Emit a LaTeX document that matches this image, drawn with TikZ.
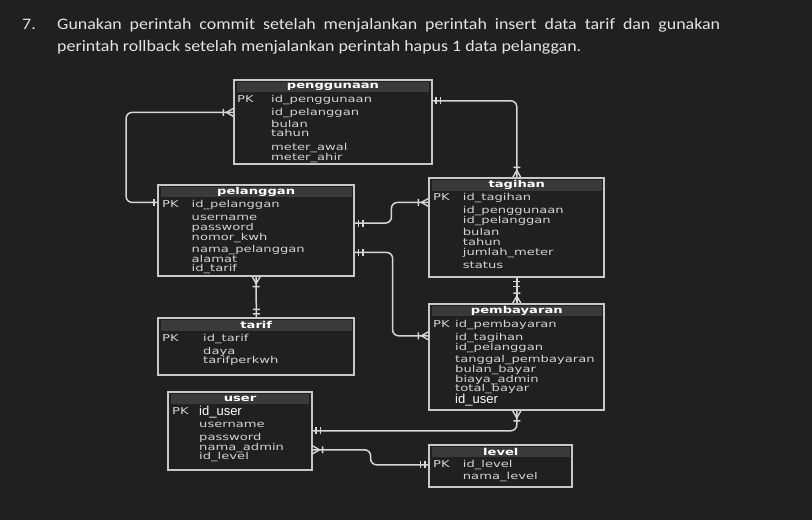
\documentclass[tikz,border=0pt]{standalone}
\usepackage{fontspec}
\usepackage{tikz}
\usetikzlibrary{arrows.meta}
\setmainfont{Carlito}
\newfontfamily\titlefont[FakeStretch=1.12]{Carlito}
\newfontfamily\erfont[FakeStretch=1.38]{DejaVu Sans}
\newfontfamily\idfont{Liberation Sans}

\definecolor{bg}{HTML}{202020}
\definecolor{hdrfill}{HTML}{3A3A3A}
\definecolor{tblline}{HTML}{C8C8C8}
\definecolor{fldtext}{HTML}{D4D4D4}
\definecolor{titletext}{HTML}{E4E4E4}
\definecolor{connline}{HTML}{D6D6D6}

% crow's foot ends
\pgfdeclarearrow{
  name = erbar,
  setup code = {
    \pgfarrowssettipend{0pt}
    \pgfarrowssetlineend{0pt}
    \pgfarrowssetbackend{-5pt}
    \pgfarrowssetvisualbackend{-5pt}
    \pgfarrowshullpoint{0pt}{0pt}
    \pgfarrowshullpoint{-5pt}{0pt}
  },
  drawing code = {
    \pgfsetlinewidth{1.4pt}
    \pgfpathmoveto{\pgfqpoint{-3.5pt}{3.5pt}}
    \pgfpathlineto{\pgfqpoint{-3.5pt}{-3.5pt}}
    \pgfusepathqstroke
  }
}
\pgfdeclarearrow{
  name = erone,
  setup code = {
    \pgfarrowssettipend{0pt}
    \pgfarrowssetlineend{0pt}
    \pgfarrowssetbackend{-9pt}
    \pgfarrowssetvisualbackend{-9pt}
    \pgfarrowshullpoint{0pt}{0pt}
    \pgfarrowshullpoint{-9pt}{0pt}
  },
  drawing code = {
    \pgfsetlinewidth{1.4pt}
    \pgfpathmoveto{\pgfqpoint{-3.5pt}{3.5pt}}
    \pgfpathlineto{\pgfqpoint{-3.5pt}{-3.5pt}}
    \pgfpathmoveto{\pgfqpoint{-8pt}{3.5pt}}
    \pgfpathlineto{\pgfqpoint{-8pt}{-3.5pt}}
    \pgfusepathqstroke
  }
}
\pgfdeclarearrow{
  name = ermany,
  setup code = {
    \pgfarrowssettipend{0pt}
    \pgfarrowssetlineend{0pt}
    \pgfarrowssetbackend{-11pt}
    \pgfarrowssetvisualbackend{-11pt}
    \pgfarrowshullpoint{0pt}{0pt}
    \pgfarrowshullpoint{-11pt}{0pt}
  },
  drawing code = {
    \pgfsetlinewidth{1.4pt}
    \pgfpathmoveto{\pgfqpoint{-10pt}{3.5pt}}
    \pgfpathlineto{\pgfqpoint{-10pt}{-3.5pt}}
    \pgfpathmoveto{\pgfqpoint{0pt}{4pt}}
    \pgfpathlineto{\pgfqpoint{-7pt}{0pt}}
    \pgfpathlineto{\pgfqpoint{0pt}{-4pt}}
    \pgfusepathqstroke
  }
}

\tikzset{
  tbl/.style={draw=tblline, line width=1.8pt, fill=bg, inner sep=0pt},
  hdr/.style={fill=hdrfill, inner sep=0pt, minimum height=10.5pt, anchor=north,
    text=white, font=\erfont\bfseries\fontsize{9.5}{9.5}\selectfont},
  fld/.style={anchor=base west, inner sep=0pt, text=fldtext,
    font=\erfont\fontsize{9.5}{9.5}\selectfont},
  idfld/.style={anchor=base west, inner sep=0pt, text=white,
    font=\idfont\fontsize{13}{13}\selectfont},
  conn/.style={draw=connline, line width=1.5pt, rounded corners=6pt},
}

\begin{document}
\begin{tikzpicture}[x=1pt, y=-1pt]
\fill[bg] (0,0) rectangle (812,520);
\useasboundingbox (0,0) rectangle (812,520);

% task text
\node[anchor=base west, inner sep=0pt, text=titletext,
  font=\titlefont\fontsize{16}{22}\selectfont] (num) at (22,29) {7.};
\node[anchor=base west, inner sep=0pt, text width=663pt, align=justify, text=titletext,
  font=\titlefont\fontsize{16}{22}\selectfont] (task) at (57,29)
  {Gunakan perintah commit setelah menjalankan perintah insert data tarif dan gunakan\linebreak
   perintah rollback setelah menjalankan perintah hapus 1 data pelanggan.};

% penggunaan
\node[tbl, minimum width=197.4pt, minimum height=84.3pt] (peng) at (333,122.15) {};
\node[hdr, minimum width=192.4pt] (peng-h) at ([yshift=-2.5pt]peng.north) {penggunaan};
\node[fld] (peng-pk) at (237,102.3) {PK};
\node[fld] (peng-1) at (271,102.3) {id\_penggunaan};
\node[fld] (peng-2) at (271,115.6) {id\_pelanggan};
\node[fld] (peng-3) at (271,127.3) {bulan};
\node[fld] (peng-4) at (271,136.6) {tahun};
\node[fld] (peng-5) at (271,150) {meter\_awal};
\node[fld] (peng-6) at (271,160.6) {meter\_ahir};

% pelanggan
\node[tbl, minimum width=195.7pt, minimum height=90.7pt] (pel) at (256.15,230.35) {};
\node[hdr, minimum width=190.7pt] (pel-h) at ([yshift=-2.5pt]pel.north) {pelanggan};
\node[fld] (pel-pk) at (162,207.6) {PK};
\node[fld] (pel-1) at (191.5,207.6) {id\_pelanggan};
\node[fld] (pel-2) at (191.5,220.6) {username};
\node[fld] (pel-3) at (191.5,230) {password};
\node[fld] (pel-4) at (191.5,240.3) {nomor\_kwh};
\node[fld] (pel-5) at (191.5,252.3) {nama\_pelanggan};
\node[fld] (pel-6) at (191.5,262.3) {alamat};
\node[fld] (pel-7) at (191.5,271.6) {id\_tarif};

% tagihan
\node[tbl, minimum width=175pt, minimum height=99pt] (tag) at (516.8,227.8) {};
\node[hdr, minimum width=170pt] (tag-h) at ([yshift=-2.5pt]tag.north) {tagihan};
\node[fld] (tag-pk) at (433,200.6) {PK};
\node[fld] (tag-1) at (462.7,200.6) {id\_tagihan};
\node[fld] (tag-2) at (462.7,213.3) {id\_penggunaan};
\node[fld] (tag-3) at (462.7,223.3) {id\_pelanggan};
\node[fld] (tag-4) at (462.7,235.3) {bulan};
\node[fld] (tag-5) at (462.7,245) {tahun};
\node[fld] (tag-6) at (462.7,255.3) {jumlah\_meter};
\node[fld] (tag-7) at (462.7,268) {status};

% tarif
\node[tbl, minimum width=196pt, minimum height=56.7pt] (tar) at (256.3,346.65) {};
\node[hdr, minimum width=191pt] (tar-h) at ([yshift=-2.5pt]tar.north) {tarif};
\node[fld] (tar-pk) at (162,341) {PK};
\node[fld] (tar-1) at (203,341) {id\_tarif};
\node[fld] (tar-2) at (203,354) {daya};
\node[fld] (tar-3) at (203,363.3) {tarifperkwh};

% pembayaran
\node[tbl, minimum width=175pt, minimum height=106pt] (pem) at (516.8,357) {};
\node[hdr, minimum width=170pt] (pem-h) at ([yshift=-2.5pt]pem.north) {pembayaran};
\node[fld] (pem-pk) at (433,327.3) {PK};
\node[fld] (pem-1) at (455,327.3) {id\_pembayaran};
\node[fld] (pem-2) at (455,340) {id\_tagihan};
\node[fld] (pem-3) at (455,350) {id\_pelanggan};
\node[fld] (pem-4) at (455,362.3) {tanggal\_pembayaran};
\node[fld] (pem-5) at (455,372.3) {bulan\_bayar};
\node[fld] (pem-6) at (455,382.6) {biaya\_admin};
\node[fld] (pem-7) at (455,391.6) {total\_bayar};
\node[idfld] (pem-8) at (455,403) {id\_user};

% user
\node[tbl, minimum width=143.4pt, minimum height=78.3pt] (usr) at (240,430.85) {};
\node[hdr, minimum width=138.4pt] (usr-h) at ([yshift=-2.5pt]usr.north) {user};
\node[fld] (usr-pk) at (172,414.3) {PK};
\node[idfld] (usr-1) at (199,415.5) {id\_user};
\node[fld] (usr-2) at (199,427.6) {username};
\node[fld] (usr-3) at (199,440) {password};
\node[fld] (usr-4) at (199,450) {nama\_admin};
\node[fld] (usr-5) at (199,459.3) {id\_level};

% level
\node[tbl, minimum width=143pt, minimum height=41.7pt] (lev) at (500.8,465.85) {};
\node[hdr, minimum width=138pt] (lev-h) at ([yshift=-2.5pt]lev.north) {level};
\node[fld] (lev-pk) at (433,467.6) {PK};
\node[fld] (lev-1) at (462.7,467.6) {id\_level};
\node[fld] (lev-2) at (462.7,479.3) {nama\_level};

% relations
\draw[conn, {erbar}-{ermany}] ([yshift=-18.3pt]pel.north west) -- ++(-31.3,0)
  |- ([yshift=-33.3pt]peng.north west);
\draw[conn, {erone}-{ermany}] ([yshift=-21.7pt]peng.north east) -| (tag.north);
\draw[conn, {erone}-{ermany}] ([yshift=-39pt]pel.north east)
  -| ([xshift=-37pt,yshift=-25pt]tag.north west) -- ([yshift=-25pt]tag.north west);
\draw[conn, {erone}-{ermany}] ([yshift=-68.3pt]pel.north east) -- ++(37.7,0)
  |- ([yshift=-32.7pt]pem.north west);
\draw[conn, {erone}-{ermany}] (tar.north) -- (pel.south);
\draw[conn, {erone}-{ermany}] (tag.south) -- (pem.north);
\draw[conn, {erone}-{ermany}] ([yshift=-40pt]usr.north east) -| (pem.south);
\draw[conn, {erone}-{ermany}] ([yshift=-20.7pt]lev.north west)
  -| ([xshift=58pt,yshift=-59pt]usr.north east) -- ([yshift=-59pt]usr.north east);
\end{tikzpicture}
\end{document}
